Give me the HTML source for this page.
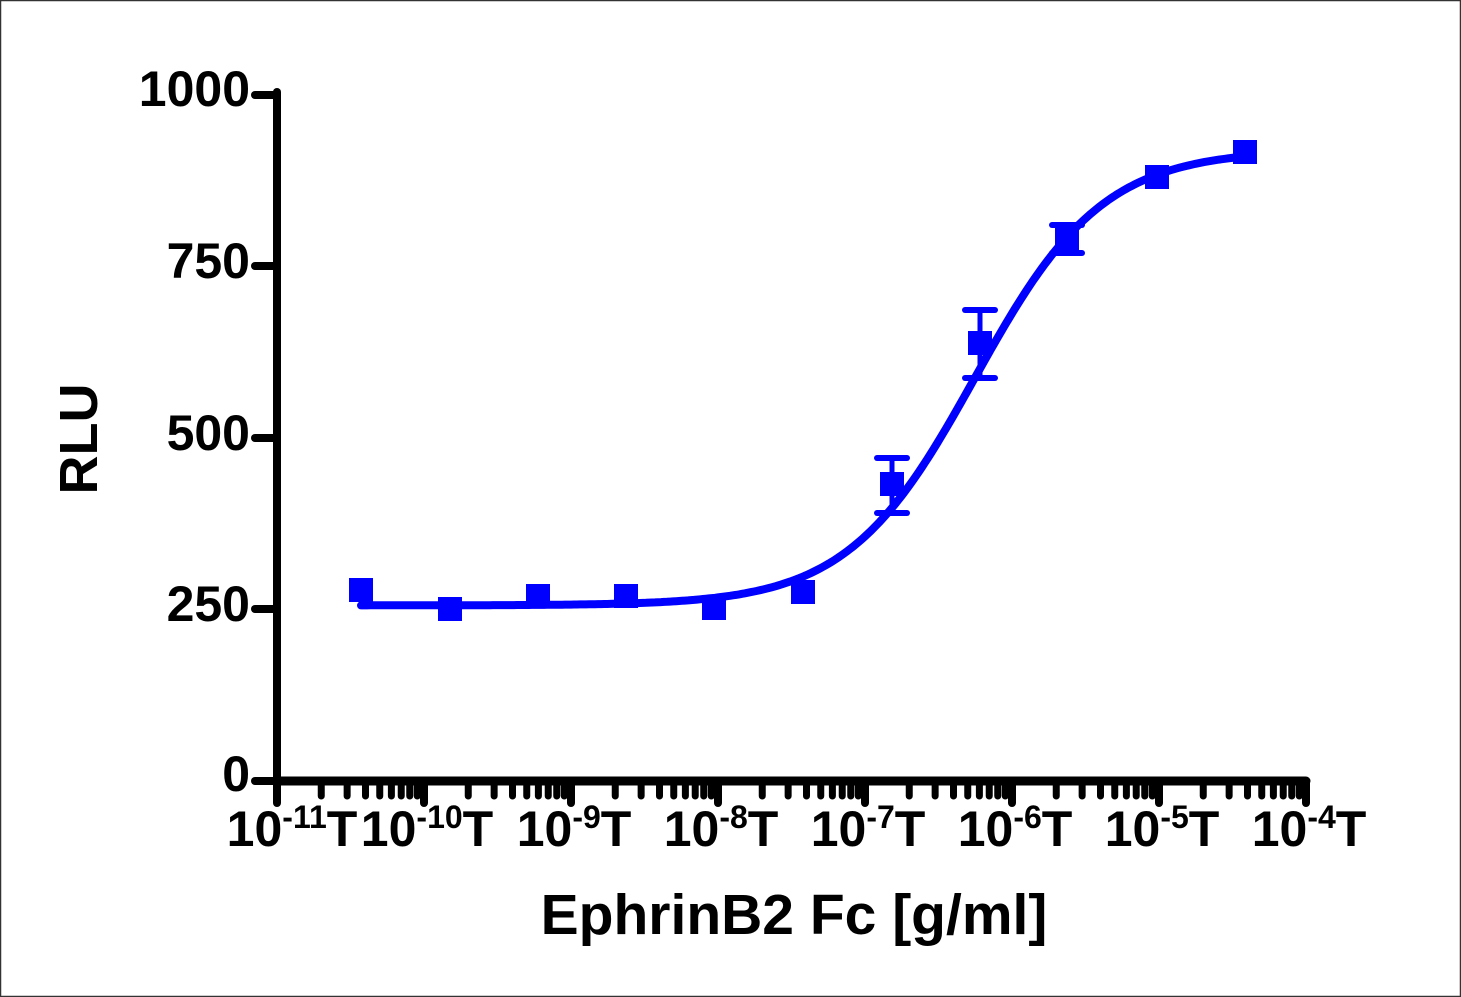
<!DOCTYPE html>
<html><head><meta charset="utf-8"><style>
html,body{margin:0;padding:0;background:#fff}
svg{display:block}
text{font-family:"Liberation Sans",Arial,sans-serif;font-weight:bold;fill:#000}
</style></head><body>
<svg id="s" width="1461" height="997" viewBox="0 0 1461 997" xmlns="http://www.w3.org/2000/svg">
<rect x="0.5" y="0.5" width="1460" height="996" fill="#fff" stroke="#333" stroke-width="1.5"/>
<g id="ax" stroke="#000" stroke-linecap="round" fill="none"></g>
<g font-size="50" text-anchor="end">
<text x="250" y="106">1000</text>
<text x="250" y="278">750</text>
<text x="250" y="450">500</text>
<text x="250" y="621">250</text>
<text x="250" y="791">0</text>
</g>
<g id="xl" font-size="50" text-anchor="middle"></g>
<text x="794" y="934" font-size="57" text-anchor="middle">EphrinB2 Fc [g/ml]</text>
<text transform="translate(97,439) rotate(-90)" font-size="54" text-anchor="middle">RLU</text>
<path id="curve" fill="none" stroke="#0000ff" stroke-width="8" stroke-linecap="round"/>
<g id="pts" fill="#0000ff" stroke="#0000ff"></g>
</svg>
<script>
var NS="http://www.w3.org/2000/svg";
function el(p,t,a){var e=document.createElementNS(NS,t);for(var k in a)e.setAttribute(k,a[k]);p.appendChild(e);return e;}
var ax=document.getElementById('ax');
var X0=277,D=147,Y0=781,K=0.686;
el(ax,'line',{x1:X0,y1:92,x2:X0,y2:Y0,'stroke-width':8});
el(ax,'line',{x1:X0,y1:Y0,x2:X0+7*D,y2:Y0,'stroke-width':9});
[95,266,438,609,781].forEach(function(y){el(ax,'line',{x1:X0-22,y1:y,x2:X0,y2:y,'stroke-width':8});});
for(var d=0;d<=7;d++){
 var x=X0+d*D;
 el(ax,'line',{x1:x,y1:Y0,x2:x,y2:803,'stroke-width':8});
 if(d<7)for(var m=2;m<=9;m++){var xm=x+Math.log10(m)*D;el(ax,'line',{x1:xm,y1:Y0,x2:xm,y2:796,'stroke-width':7});}
}
var xl=document.getElementById('xl');
var exps=["-11","-10","-9","-8","-7","-6","-5","-4"];
exps.forEach(function(e,i){
 var t=el(xl,'text',{x:X0+i*D+(i==0?15:3),y:846});
 var a=el(t,'tspan',{});a.textContent="10";
 var b=el(t,'tspan',{dy:-18,'font-size':32});b.textContent=e;
 var c=el(t,'tspan',{dy:18});c.textContent="T";
});
var cBot=256,cTop=920,cEc=975,cH=1.0,p="";
for(var x=361;x<=1245;x+=3){
 var dl=(x-cEc)/D*cH;var f=1/(1+Math.pow(10,-dl));var v=cBot+(cTop-cBot)*f;
 p+=(p?"L":"M")+x+" "+(Y0-v*K).toFixed(1);
}
document.getElementById('curve').setAttribute('d',p);
var pts=[[361,590],[450,609],[538,596],[626,596],[714,608],[803,592],[892,484,458,513],[980,343,310,378],[1067,238,225,253],[1157,177],[1245,152]];
var g=document.getElementById('pts');
pts.forEach(function(q){
 el(g,'rect',{x:q[0]-12,y:q[1]-12,width:24,height:24,stroke:'none'});
 if(q[2]){
  el(g,'line',{x1:q[0],y1:q[2],x2:q[0],y2:q[3],'stroke-width':5});
  el(g,'line',{x1:q[0]-15,y1:q[2],x2:q[0]+15,y2:q[2],'stroke-width':6,'stroke-linecap':'round'});
  el(g,'line',{x1:q[0]-15,y1:q[3],x2:q[0]+15,y2:q[3],'stroke-width':6,'stroke-linecap':'round'});
 }
});
</script>
</body></html>
